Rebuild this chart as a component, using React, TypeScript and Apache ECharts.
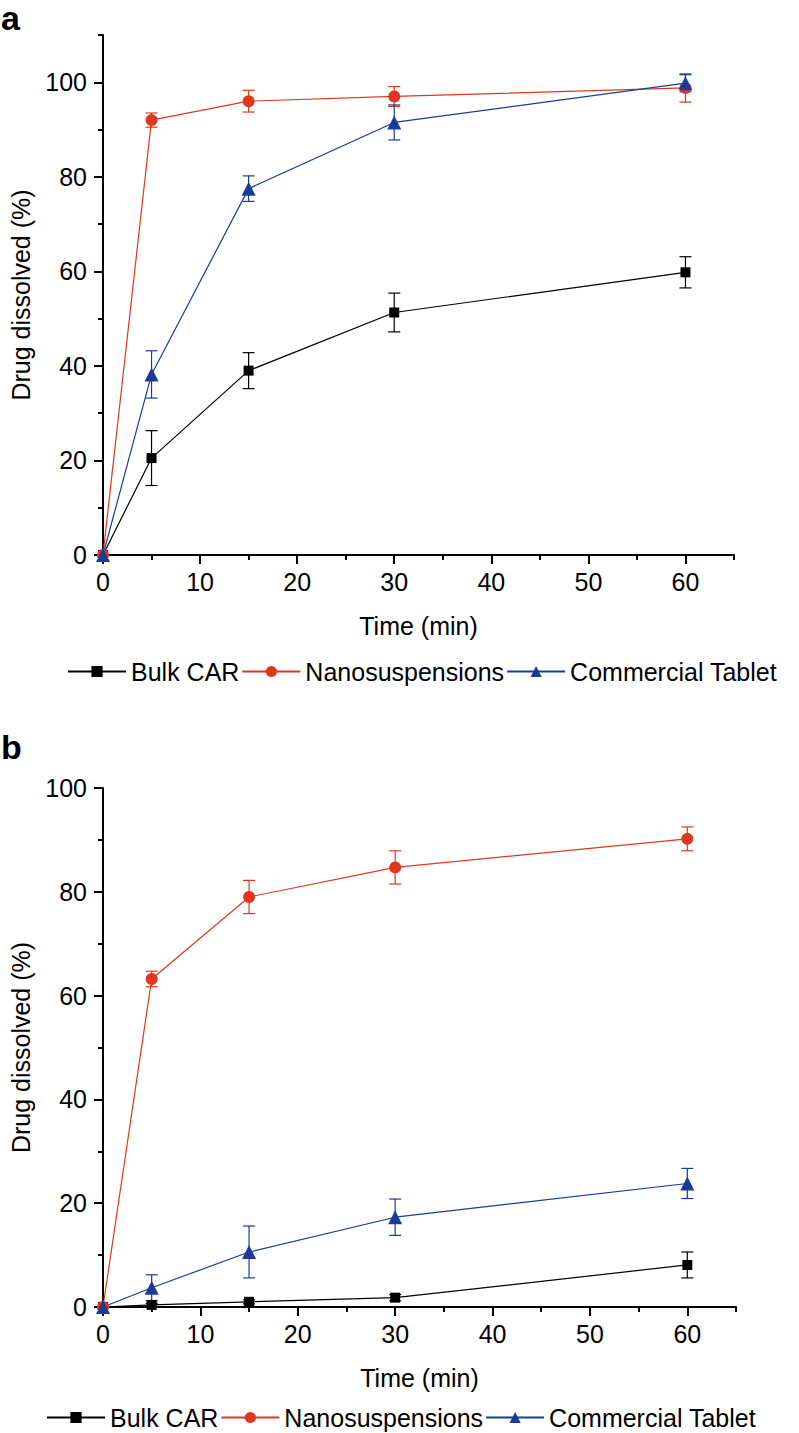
import React, { useEffect, useRef } from "react";
import * as echarts from "echarts";

const times = [0, 5, 15, 30, 60];
const seriesNames = ["Bulk CAR", "Nanosuspensions", "Commercial Tablet"];

// Panel a
const aBulk = [0, 20.5, 39.0, 51.3, 59.8];
const aBulkSd = [0, 5.8, 3.8, 4.1, 3.3];
const aNano = [0, 92.0, 96.0, 97.0, 98.8];
const aNanoSd = [0, 1.5, 2.3, 2.1, 3.0];
const aComm = [0, 38.2, 77.5, 91.5, 99.8];
const aCommSd = [0, 5.0, 2.7, 3.7, 1.8];

// Panel b
const bBulk = [0, 0.4, 1.0, 1.8, 8.1];
const bBulkSd = [0, 0.3, 0.4, 0.6, 2.5];
const bNano = [0, 63.2, 79.0, 84.7, 90.2];
const bNanoSd = [0, 1.5, 3.2, 3.2, 2.3];
const bComm = [0, 3.7, 10.6, 17.3, 23.8];
const bCommSd = [0, 2.5, 5.0, 3.5, 2.9];

const xMajor = [0, 10, 20, 30, 40, 50, 60];
const xMinor = [5, 15, 25, 35, 45, 55, 65];
const aYMajor = [0, 20, 40, 60, 80, 100];
const aYMinor = [10, 30, 50, 70, 90, 110];
const bYMajor = [0, 20, 40, 60, 80, 100];
const bYMinor = [10, 30, 50, 70, 90];

const FONT = '"Liberation Sans", Arial, Helvetica, sans-serif';
const RED = "#e2361c";
const BLUE = "#1a3c98";
const BLACK = "#000000";
const colors = [BLACK, RED, BLUE];
const symbols = ["rect", "circle", "triangle"];
const symbolSizes = [10, 12, 14];

const panels = [
  { vals: [aBulk, aNano, aComm], sds: [aBulkSd, aNanoSd, aCommSd], yMax: 110, yMajor: aYMajor, yMinor: aYMinor },
  { vals: [bBulk, bNano, bComm], sds: [bBulkSd, bNanoSd, bCommSd], yMax: 100, yMajor: bYMajor, yMinor: bYMinor },
];

function buildOption() {
  const grids = [
    { left: 96, top: 35, width: 638, height: 520 },
    { left: 98, top: 788, width: 638, height: 519 },
  ];
  const xAxes: any[] = [];
  const yAxes: any[] = [];
  const series: any[] = [];
  const axisLineStyle = { color: "#000", width: 2 };
  panels.forEach((p, i) => {
    xAxes.push({
      type: "value", gridIndex: i, min: 0, max: 65, position: "bottom",
      axisLine: { show: true, lineStyle: axisLineStyle },
      axisTick: { show: true, customValues: xMajor, length: 9, lineStyle: { color: "#000", width: 2 } },
      axisLabel: { customValues: xMajor, fontSize: 25, fontFamily: FONT, color: "#000", margin: 14 },
      splitLine: { show: false },
      name: "Time (min)", nameLocation: "middle", nameGap: 58,
      nameTextStyle: { fontSize: 25, fontFamily: FONT, color: "#000" },
    });
    xAxes.push({
      type: "value", gridIndex: i, min: 0, max: 65, position: "bottom",
      axisLine: { show: false },
      axisTick: { show: true, customValues: xMinor, length: 5, lineStyle: { color: "#000", width: 2 } },
      axisLabel: { show: false },
      splitLine: { show: false },
    });
    yAxes.push({
      type: "value", gridIndex: i, min: 0, max: p.yMax, position: "left",
      axisLine: { show: true, lineStyle: axisLineStyle },
      axisTick: { show: true, customValues: p.yMajor, length: 9, lineStyle: { color: "#000", width: 2 } },
      axisLabel: { customValues: p.yMajor, fontSize: 25, fontFamily: FONT, color: "#000", margin: 16 },
      splitLine: { show: false },
      name: "Drug dissolved (%)", nameLocation: "middle", nameGap: 70, nameRotate: 90,
      nameTextStyle: { fontSize: 25, fontFamily: FONT, color: "#000" },
    });
    yAxes.push({
      type: "value", gridIndex: i, min: 0, max: p.yMax, position: "left",
      axisLine: { show: false },
      axisTick: { show: true, customValues: p.yMinor, length: 5, lineStyle: { color: "#000", width: 2 } },
      axisLabel: { show: false },
      splitLine: { show: false },
    });
    p.vals.forEach((vals, s) => {
      series.push({
        type: "line", name: seriesNames[s], xAxisIndex: 2 * i, yAxisIndex: 2 * i,
        data: times.map((t, k) => [t, vals[k]]),
        symbol: symbols[s], symbolSize: symbolSizes[s],
        itemStyle: { color: colors[s] },
        lineStyle: { color: colors[s], width: 1.2 },
        z: 3,
      });
    });
    p.vals.forEach((vals, s) => {
      const sd = p.sds[s];
      const errData = times
        .map((t, k) => [t, vals[k] - sd[k], vals[k] + sd[k]])
        .filter((d, k) => sd[k] > 0);
      series.push({
        type: "custom", name: "err-" + i + "-" + s, xAxisIndex: 2 * i, yAxisIndex: 2 * i,
        data: errData, encode: { x: 0, y: [1, 2] }, z: 2,
        renderItem: (params: any, api: any) => {
          const x = api.value(0);
          const lo = api.coord([x, api.value(1)]);
          const hi = api.coord([x, api.value(2)]);
          const hw = 6;
          const style = { stroke: colors[s], lineWidth: 1.2 };
          return {
            type: "group",
            children: [
              { type: "line", shape: { x1: lo[0], y1: lo[1], x2: hi[0], y2: hi[1] }, style },
              { type: "line", shape: { x1: hi[0] - hw, y1: hi[1], x2: hi[0] + hw, y2: hi[1] }, style },
              { type: "line", shape: { x1: lo[0] - hw, y1: lo[1], x2: lo[0] + hw, y2: lo[1] }, style },
            ],
          };
        },
      });
    });
  });
  const legendCommon = {
    data: seriesNames, orient: "horizontal", itemWidth: 58, itemHeight: 14, itemGap: 2,
    textStyle: { fontSize: 25, fontFamily: FONT, color: "#000" },
    selectedMode: false,
  };
  return {
    animation: false,
    backgroundColor: "#fff",
    grid: grids,
    xAxis: xAxes,
    yAxis: yAxes,
    series,
    legend: [
      { ...legendCommon, left: 62, top: 654 },
      { ...legendCommon, left: 41, top: 1400 },
    ],
    graphic: [
      { type: "text", left: 1, top: 1, style: { text: "a", font: "bold 34px " + FONT, fill: "#000" } },
      { type: "text", left: 1, top: 730, style: { text: "b", font: "bold 34px " + FONT, fill: "#000" } },
    ],
  };
}

export default function App() {
  const ref = useRef<HTMLDivElement>(null);
  useEffect(() => {
    if (!ref.current) return;
    const chart = echarts.init(ref.current, undefined, { renderer: "svg" });
    chart.setOption(buildOption() as any);
    return () => chart.dispose();
  }, []);
  return (
    <div
      ref={ref}
      style={{ position: "absolute", left: 0, top: 0, width: 799, height: 1433, background: "#fff" }}
    />
  );
}
